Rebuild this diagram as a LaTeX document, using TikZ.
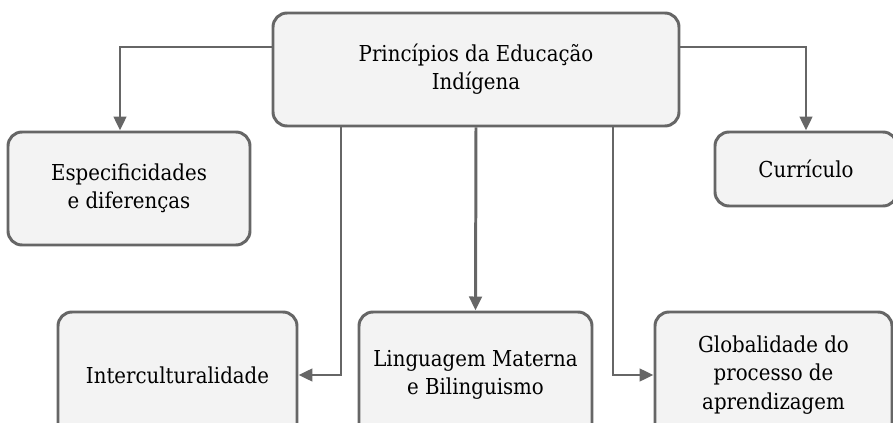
\documentclass[tikz,border=0pt]{standalone}
\usepackage{fontspec}
\setmainfont{DejaVu Serif Condensed}
\usetikzlibrary{arrows.meta, positioning}
\definecolor{boxfill}{HTML}{F3F3F3}
\definecolor{boxline}{HTML}{666666}

\begin{document}
\begin{tikzpicture}[
  box/.style={rectangle, rounded corners=8pt, draw=boxline, line width=1.7pt, fill=boxfill, align=center, font=\fontsize{12.5}{16}\selectfont},
  link/.style={draw=boxline, line width=1.7pt, -{Triangle[length=0.28cm, width=0.25cm]}}
]
\path[use as bounding box, clip] (0, 0) rectangle (17.86, -8.46);

\node (top)[box, minimum width=8.12cm, minimum height=2.26cm] at (9.52, -1.39) {Princípios da Educação\\Indígena};

\node (espec)[box, minimum width=4.84cm, minimum height=2.26cm] at (2.58, -3.77) {Especificidades\\e diferenças};
\node (curr)[box, minimum width=3.64cm, minimum height=1.48cm] at (16.12, -3.38) {Currículo};

\node (inter)[box, minimum width=4.78cm, minimum height=2.52cm] at (3.55, -7.50) {Interculturalidade};
\node (ling)[box, minimum width=4.66cm, minimum height=2.52cm] at (9.51, -7.50) {Linguagem Materna\\e Bilinguismo};
\node (glob)[box, minimum width=4.74cm, minimum height=2.52cm] at (15.47, -7.50) {Globalidade do\\processo de\\aprendizagem};

\coordinate (lk) at (6.82, 0);
\coordinate (rk) at (12.26, 0);

\draw[link] ([yshift=0.45cm]top.west) -| ([xshift=-0.18cm]espec.north);
\draw[link] ([yshift=0.45cm]top.east) -| (curr.north);
\draw[link] (top.south -| lk) |- (inter);
\draw[link] (top.south) -- (ling.north);
\draw[link] (top.south -| rk) |- (glob);
\end{tikzpicture}
\end{document}
